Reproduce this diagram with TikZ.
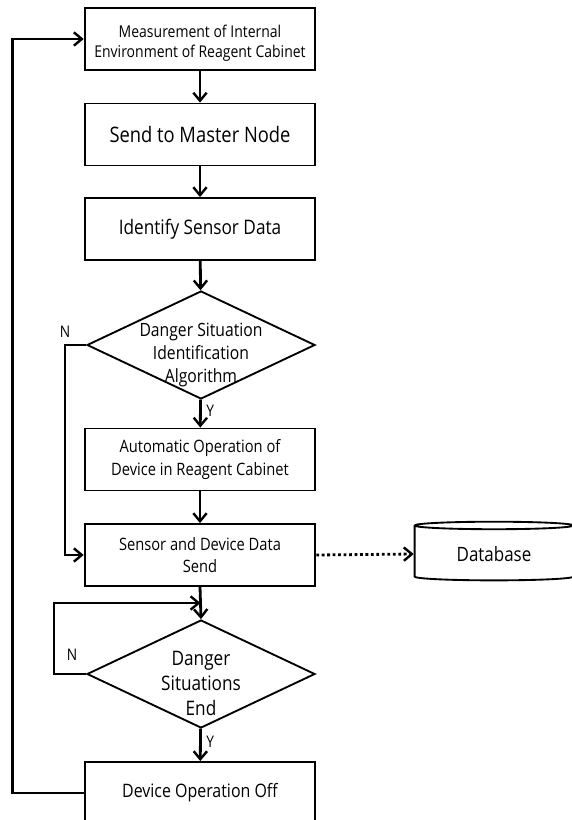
\documentclass[tikz,border=0pt]{standalone}
\usepackage{fontspec}
\setmainfont{Open Sans}[FakeStretch=0.86]
\usetikzlibrary{positioning,calc,shapes.geometric,arrows.meta}
\tikzset{
  flow box/.style={draw,line width=1.4pt,rectangle,align=center,
    minimum width=173pt,minimum height=46.5pt,inner sep=2pt},
  flow test/.style={draw,line width=1.4pt,diamond,aspect=2.11,align=center,
    minimum width=171pt,minimum height=81pt,inner xsep=-7pt,inner ysep=-14pt},
  flow store/.style={draw,line width=1.4pt,cylinder,shape border rotate=90,
    aspect=0.09,align=center,minimum width=119pt,minimum height=44pt},
  flow arrow/.style={line width=2.1pt,-{Straight Barb[length=6pt,width=10pt,line width=1.8pt]}},
  flow line/.style={line width=2.1pt},
  flow data/.style={line width=2.1pt,dotted,-{Straight Barb[length=6pt,width=10pt,line width=1.8pt]}},
  flow tag/.style={font=\fontsize{12}{13}\selectfont}
}

\begin{document}
\begin{tikzpicture}[x=0.75pt,y=-0.75pt]
  \useasboundingbox (0,0) rectangle (571,820);
  \node[flow box,font=\fontsize{12.2}{15}\selectfont,text height=31pt] (meas) at (200,39)
    {Measurement of Internal\\Environment of Reagent Cabinet};
  \node[flow box,font=\fontsize{16}{18}\selectfont] (master) at (200,134.5) {Send to Master Node};
  \node[flow box,font=\fontsize{15}{18}\selectfont] (ident) at (200,229) {Identify Sensor Data};
  \node[flow test,font=\fontsize{13.7}{17}\selectfont,text height=59pt] (danger) at (201,345)
    {Danger Situation\\Identification\\Algorithm};
  \node[flow box,font=\fontsize{12.8}{17}\selectfont] (auto) at (200,459.5)
    {Automatic Operation of\\Device in Reagent Cabinet};
  \node[flow box,font=\fontsize{12.8}{17}\selectfont] (send) at (200,555)
    {Sensor and Device Data\\Send};
  \node[flow test,font=\fontsize{15}{18.75}\selectfont,text height=63pt] (finish) at (201,674)
    {Danger\\Situations\\End};
  \node[flow box,font=\fontsize{13.9}{16}\selectfont] (off) at (200,793) {Device Operation Off};
  \node[flow store,font=\fontsize{14.8}{16}\selectfont] (db) at (494,554) {Database};

  \coordinate (merge) at ($(send.south)!0.5!(finish.north)$);

  \draw[flow arrow] (meas) -- (master);
  \draw[flow arrow] (master) -- (ident);
  \draw[flow arrow] (ident) -- (danger);
  \draw[flow arrow] (danger) -- (auto) node[flow tag,pos=0.4,right=0pt] {Y};
  \draw[flow arrow] (auto) -- (send);
  \draw[flow arrow] (danger.west) -- ++(-21,0) node[flow tag,above=1pt] {N} |- (send.west);
  \draw[flow line] (send.south) -- (merge);
  \draw[flow arrow] (merge) -- (finish.north);
  \draw[flow arrow] (finish.west) -- ++(-32,0) |- (merge);
  \node[flow tag] at (72,655) {N};
  \draw[flow arrow] (finish) -- (off) node[flow tag,pos=0.4,right=0pt] {Y};
  \draw[flow arrow] (off.west) -- ++(-71,0) |- (meas.west);
  \draw[flow data] (send.east) -- (db.west);
\end{tikzpicture}
\end{document}
